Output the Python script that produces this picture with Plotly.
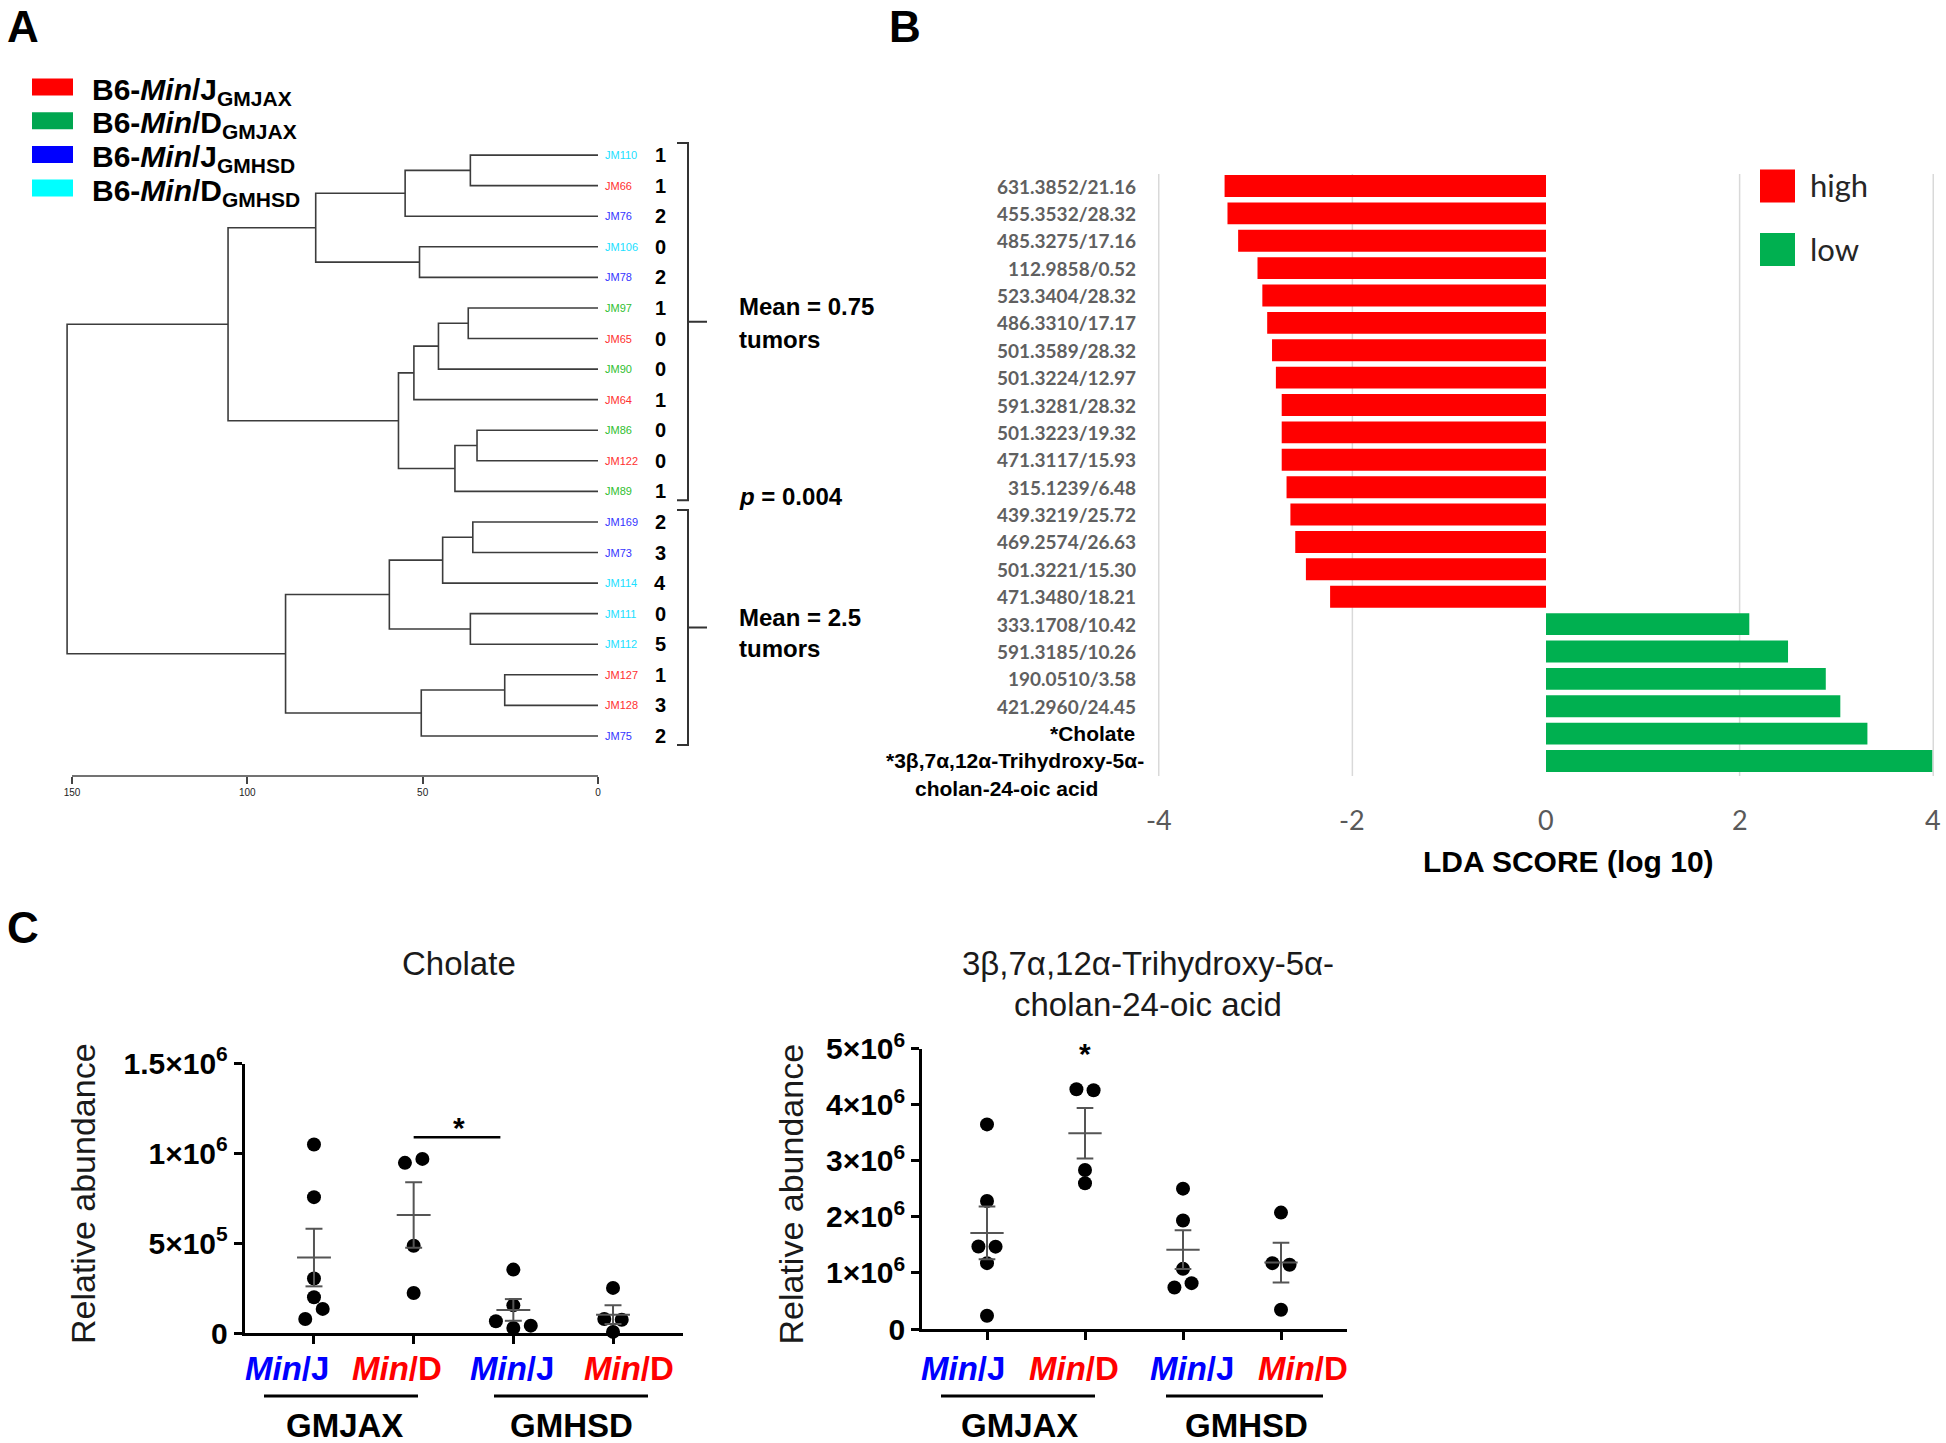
import numpy as np
import plotly.graph_objects as go

W, H = 1946, 1443
def X(px): return px / W
def Y(py): return 1 - py / H

ARIAL = "Liberation Sans, Arial, Helvetica, sans-serif"
CALIBRI = "Lato, Carlito, Calibri, sans-serif"

# ---------------- Panel A data ----------------
leaf_names = ["JM110", "JM66", "JM76", "JM106", "JM78", "JM97", "JM65", "JM90", "JM64", "JM86",
              "JM122", "JM89", "JM169", "JM73", "JM114", "JM111", "JM112", "JM127", "JM128", "JM75"]
leaf_groups = ["D_HSD", "J_JAX", "J_HSD", "D_HSD", "J_HSD", "D_JAX", "J_JAX", "D_JAX", "J_JAX", "D_JAX",
               "J_JAX", "D_JAX", "J_HSD", "J_HSD", "D_HSD", "D_HSD", "D_HSD", "J_JAX", "J_JAX", "J_HSD"]
tumor_counts = [1, 1, 2, 0, 2, 1, 0, 0, 1, 0, 0, 1, 2, 3, 4, 0, 5, 1, 3, 2]
merge_left = [0, 20, 3, 21, 5, 24, 25, 9, 27, 26, 23, 12, 31, 15, 32, 17, 35, 34, 30]
merge_right = [1, 2, 4, 22, 6, 7, 8, 10, 11, 28, 29, 13, 14, 16, 33, 18, 19, 36, 37]
merge_height = [36.4, 55.0, 50.9, 80.5, 37.0, 45.5, 52.5, 34.5, 40.8, 56.9, 105.5,
                35.7, 44.3, 36.4, 59.5, 26.6, 50.4, 89.1, 151.4]
dist_ticks = [150, 100, 50, 0]
legend_groups = ["J_JAX", "D_JAX", "J_HSD", "D_HSD"]
legend_strain = ["J", "D", "J", "D"]
legend_source = ["GMJAX", "GMJAX", "GMHSD", "GMHSD"]
cluster_text = ["<b>Mean = 0.75</b>", "<b>tumors</b>", "<b><i>p</i> = 0.004</b>", "<b>Mean = 2.5</b>", "<b>tumors</b>"]

group_color = {"J_JAX": "#FF0000", "D_JAX": "#00A650", "J_HSD": "#0000FF", "D_HSD": "#00FFFF"}
leaf_color = {"J_JAX": "#FF3030", "D_JAX": "#30C030", "J_HSD": "#3535FF", "D_HSD": "#20E0FF"}

# ---------------- Panel B data ----------------
lda_labels = ["631.3852/21.16", "455.3532/28.32", "485.3275/17.16", "112.9858/0.52", "523.3404/28.32",
              "486.3310/17.17", "501.3589/28.32", "501.3224/12.97", "591.3281/28.32", "501.3223/19.32",
              "471.3117/15.93", "315.1239/6.48", "439.3219/25.72", "469.2574/26.63", "501.3221/15.30",
              "471.3480/18.21", "333.1708/10.42", "591.3185/10.26", "190.0510/3.58", "421.2960/24.45",
              "*Cholate", "*3β,7α,12α-Trihydroxy-5α-|cholan-24-oic acid"]
lda_scores = [-3.32, -3.29, -3.18, -2.98, -2.93, -2.88, -2.83, -2.79, -2.73, -2.73, -2.73,
              -2.68, -2.64, -2.59, -2.48, -2.23, 2.10, 2.50, 2.89, 3.04, 3.32, 3.99]
lda_ticks = [-4, -2, 0, 2, 4]

# ---------------- Panel C data ----------------
c_categories = ["Min/J", "Min/D", "Min/J", "Min/D"]
c_sources = ["GMJAX", "GMHSD"]
cholate = [
    [1.049e6, 0.756e6, 0.303e6, 0.199e6, 0.078e6, 0.134e6],
    [0.947e6, 0.969e6, 0.486e6, 0.223e6],
    [0.353e6, 0.154e6, 0.065e6, 0.028e6, 0.041e6],
    [0.251e6, 0.078e6, 0.074e6, 0.006e6],
]
trihydroxy = [
    [3.648e6, 2.283e6, 1.471e6, 1.468e6, 1.174e6, 0.237e6],
    [4.276e6, 4.258e6, 2.835e6, 2.598e6],
    [2.503e6, 1.934e6, 1.073e6, 0.741e6, 0.818e6],
    [2.076e6, 1.174e6, 1.145e6, 0.344e6],
]
chol_ticks = [0, 5e5, 1e6, 1.5e6]
chol_ticktext = ["0", "5×10<sup>5</sup>", "1×10<sup>6</sup>", "1.5×10<sup>6</sup>"]
tri_ticks = [0, 1e6, 2e6, 3e6, 4e6, 5e6]
tri_ticktext = ["0", "1×10<sup>6</sup>", "2×10<sup>6</sup>", "3×10<sup>6</sup>", "4×10<sup>6</sup>", "5×10<sup>6</sup>"]

fig = go.Figure()
annotations = []
shapes = []


def ann(text, x, y, size, color="black", xanchor="center", yanchor="middle", family=ARIAL,
        xref="paper", yref="paper", textangle=0, **kw):
    annotations.append(dict(text=text, x=x, y=y, xref=xref, yref=yref, showarrow=False,
                            xanchor=xanchor, yanchor=yanchor, textangle=textangle,
                            font=dict(size=size, color=color, family=family), **kw))


def line(x0, y0, x1, y1, color="black", width=2, xref="paper", yref="paper", layer="above"):
    shapes.append(dict(type="line", x0=x0, y0=y0, x1=x1, y1=y1, xref=xref, yref=yref,
                       line=dict(color=color, width=width), layer=layer))


# panel letters
ann("<b>A</b>", X(23), Y(27), 44)
ann("<b>B</b>", X(905), Y(26), 44)
ann("<b>C</b>", X(23), Y(927), 44)

# ================= Panel A =================
for i, g in enumerate(legend_groups):
    yc = 87 + i * 33.7
    shapes.append(dict(type="rect", x0=X(32), x1=X(73), y0=Y(yc - 8.5), y1=Y(yc + 8.5),
                       xref="paper", yref="paper", fillcolor=group_color[g], line=dict(width=0)))
    ann(f"<b>B6-<i>Min</i>/{legend_strain[i]}<sub>{legend_source[i]}</sub></b>", X(90), Y(yc + 4),
        30, xanchor="left")

# dendrogram lines from linkage
n = len(leaf_names)
node_y = {i: float(i) for i in range(n)}
node_h = {i: 0.0 for i in range(n)}
dx, dy = [], []
for k, (a, b, h) in enumerate(zip(merge_left, merge_right, merge_height)):
    ya, yb = node_y[a], node_y[b]
    dx += [node_h[a], h, h, node_h[b], None]
    dy += [ya, ya, yb, yb, None]
    node_y[n + k] = (ya + yb) / 2
    node_h[n + k] = h

fig.add_trace(go.Scatter(x=dx, y=dy, mode="lines", line=dict(color="#3c3c3c", width=1.6),
                         xaxis="x", yaxis="y", hoverinfo="skip", showlegend=False, cliponaxis=False))

# dendrogram axis geometry
D_LEFT, D_RIGHT, D_PX_PER = 40, 598, (598 - 72) / 150
LEAF0, LEAF_STEP = 155.1, 30.57
D_TOP, D_BOTTOM = 140, 776
def leaf_py(i): return LEAF0 + i * LEAF_STEP

for i, (name, g, c) in enumerate(zip(leaf_names, leaf_groups, tumor_counts)):
    ann(name, 0, i, 11, color=leaf_color[g], xanchor="left", xref="x", yref="y", xshift=5)
    ann(f"<b>{c}</b>", 0, i, 20, xanchor="center", xref="x", yref="y", xshift=62)

line(dist_ticks[0], Y(D_BOTTOM), dist_ticks[-1], Y(D_BOTTOM), color="#444", width=1.5, xref="x")

# brackets
def bracket(i0, i1):
    top, bot = leaf_py(i0) - 12, leaf_py(i1) + 9
    mid = (top + bot) / 2
    path = (f"M {X(677)},{Y(top)} L {X(688)},{Y(top)} L {X(688)},{Y(bot)} L {X(677)},{Y(bot)} "
            f"M {X(688)},{Y(mid)} L {X(707)},{Y(mid)}")
    shapes.append(dict(type="path", path=path, xref="paper", yref="paper",
                       line=dict(color="#333", width=2)))
    return mid

m1 = bracket(0, 11)
m2 = bracket(12, 19)
ann(cluster_text[0], X(737), Y(m1 - 15), 24, xanchor="left")
ann(cluster_text[1], X(737), Y(m1 + 18), 24, xanchor="left")
ann(cluster_text[2], X(737), Y(496), 24, xanchor="left")
ann(cluster_text[3], X(737), Y(m2 - 10), 24, xanchor="left")
ann(cluster_text[4], X(737), Y(m2 + 21), 24, xanchor="left")

# ================= Panel B =================
B_X0, B_PX_PER = 1546, (1933.5 - 1159) / 8
B_RANGE = [-4.02, 4.02]
idx = list(range(len(lda_scores)))
hi_i = [i for i in idx if lda_scores[i] < 0]
lo_i = [i for i in idx if lda_scores[i] > 0]
fig.add_trace(go.Bar(orientation="h", x=[lda_scores[i] for i in hi_i], y=hi_i, width=0.8,
                     marker=dict(color="#FF0000", line=dict(width=0)), name="high",
                     xaxis="x2", yaxis="y2", showlegend=False, hoverinfo="skip"))
fig.add_trace(go.Bar(orientation="h", x=[lda_scores[i] for i in lo_i], y=lo_i, width=0.8,
                     marker=dict(color="#00B050", line=dict(width=0)), name="low",
                     xaxis="x2", yaxis="y2", showlegend=False, hoverinfo="skip"))

for t in lda_ticks:
    if t != 0:
        line(t, Y(776), t, Y(174), color="#D9D9D9", width=1.5, xref="x2", layer="below")
    ann(str(t), t, Y(819), 27, color="#595959", family=CALIBRI, xref="x2")
ann("<b>LDA SCORE (log 10)</b>", X(1568), Y(861), 30)

for i, lab in enumerate(lda_labels):
    if lab.startswith("*"):
        parts = lab.split("|")
        ann(f"<b>{parts[0]}</b>", X(1146) if len(parts) > 1 else X(1137), i, 21,
            xanchor="right", yref="y2")
        if len(parts) > 1:
            ann(f"<b>{parts[1]}</b>", X(1006), i, 21, yref="y2", yshift=-28)
    else:
        ann(f"<b>{lab}</b>", X(1138), i, 19, color="#606060", family=CALIBRI,
            xanchor="right", yref="y2")

for k, (nm, col) in enumerate([("high", "#FF0000"), ("low", "#00B050")]):
    yc = 186 + k * 63.5
    shapes.append(dict(type="rect", x0=X(1760), x1=X(1795), y0=Y(yc - 16.5), y1=Y(yc + 16.5),
                       xref="paper", yref="paper", fillcolor=col, line=dict(width=0)))
    ann(nm, X(1808), Y(yc - 1), 31, color="#262626", family=CALIBRI, xanchor="left")

# ================= Panel C =================
cat_pos = [1, 2, 3, 4]
cat_colors = ["#0000FF", "#FF0000", "#0000FF", "#FF0000"]


def swarm_offsets(vals, px_per_val, thresh_px=11.0, step=0.175):
    order = sorted(range(len(vals)), key=lambda i: (vals[i], i))
    rows = []
    for i in order:
        if rows and (vals[i] - vals[rows[-1][0]]) * px_per_val <= thresh_px:
            rows[-1].append(i)
        else:
            rows.append([i])
    off = [0.0] * len(vals)
    for r in rows:
        r = sorted(r)
        m = len(r)
        for j, i in enumerate(r):
            off[i] = (j - (m - 1) / 2) * step
    return off


def dot_panel(groups, xa, ya, px_per_val):
    xs, ys = [], []
    sx, sy = [], []
    for g, vals in zip(cat_pos, groups):
        off = swarm_offsets(vals, px_per_val)
        xs += [g + o for o in off]
        ys += vals
        v = np.array(vals)
        mean = v.mean()
        sem = v.std(ddof=1) / np.sqrt(len(v))
        sx += [g - 0.17, g + 0.17, None, g, g, None, g - 0.085, g + 0.085, None, g - 0.085, g + 0.085, None]
        sy += [mean, mean, None, mean - sem, mean + sem, None, mean + sem, mean + sem, None,
               mean - sem, mean - sem, None]
    fig.add_trace(go.Scatter(x=xs, y=ys, mode="markers", marker=dict(color="black", size=14),
                             xaxis=xa, yaxis=ya, showlegend=False, cliponaxis=False, hoverinfo="skip"))
    fig.add_trace(go.Scatter(x=sx, y=sy, mode="lines", line=dict(color="#555555", width=2),
                             xaxis=xa, yaxis=ya, showlegend=False, cliponaxis=False, hoverinfo="skip"))


L_Y0, L_Y1 = 1333, 1063.5
R_Y0, R_Y1 = 1329, 1048.6
dot_panel(cholate, "x3", "y3", (L_Y0 - L_Y1) / 1.5e6)
dot_panel(trihydroxy, "x4", "y4", (R_Y0 - R_Y1) / 5e6)

ann("Cholate", X(459), Y(963), 33, color="#1a1a1a")
ann("3β,7α,12α-Trihydroxy-5α-", X(1148), Y(963), 33, color="#1a1a1a")
ann("cholan-24-oic acid", X(1148), Y(1004), 33, color="#1a1a1a")
ann("Relative abundance", X(83), Y(1194), 34, textangle=-90, color="#1a1a1a")
ann("Relative abundance", X(790.5), Y(1194), 34, textangle=-90, color="#1a1a1a")

left_lab_px = [287, 396.5, 512, 628.5]
right_lab_px = [963, 1073.5, 1191.5, 1303]
for labs in (left_lab_px, right_lab_px):
    for px, cat, col in zip(labs, c_categories, cat_colors):
        s, e = cat.split("/")
        ann(f"<b><i>{s}</i>/{e}</b>", X(px), Y(1368), 33, color=col)

for (a0, a1), (b0, b1), cx1, cx2 in [((264, 418), (494, 648), 344, 571),
                                      ((941, 1095), (1166, 1323), 1019.5, 1246.5)]:
    line(X(a0), Y(1396), X(a1), Y(1396), width=3)
    line(X(b0), Y(1396), X(b1), Y(1396), width=3)
    ann(f"<b>{c_sources[0]}</b>", X(cx1), Y(1425), 33)
    ann(f"<b>{c_sources[1]}</b>", X(cx2), Y(1425), 33)

# significance marks
line(2, 1.09e6, 2.87, 1.09e6, width=2.5, xref="x3", yref="y3")
ann("<b>*</b>", 2.45, 1.09e6, 30, xref="x3", yref="y3", yshift=10)
ann("<b>*</b>", 2, 4.85e6, 30, xref="x4", yref="y4", yshift=4)

axis_common = dict(showgrid=False, zeroline=False, automargin=False)
c_x = dict(tickvals=cat_pos, showticklabels=False, ticks="outside", ticklen=8, tickwidth=2.5,
           tickcolor="black", showline=True, linecolor="black", linewidth=2.5, **axis_common)
c_y = dict(ticks="outside", ticklen=8, tickwidth=2.5, tickcolor="black", showline=True,
           linecolor="black", linewidth=2.5, tickfont=dict(size=30, family=ARIAL, color="black"),
           **axis_common)

L_SP = 99.7
R_SP = 98.0
fig.update_layout(
    template="none",
    width=W, height=H, margin=dict(l=0, r=0, t=0, b=0, pad=0, autoexpand=False),
    paper_bgcolor="white", plot_bgcolor="rgba(0,0,0,0)", bargap=0.2, showlegend=False,
    xaxis=dict(domain=[X(D_LEFT), X(D_RIGHT)], range=[(D_RIGHT - D_LEFT) / D_PX_PER, 0],
               tickvals=dist_ticks, ticks="outside", ticklen=7, tickwidth=1.5, tickcolor="#444",
               tickfont=dict(size=10, family=ARIAL, color="#222"), showline=False, anchor="y",
               **axis_common),
    yaxis=dict(domain=[Y(D_BOTTOM), Y(D_TOP)],
               range=[(D_BOTTOM - LEAF0) / LEAF_STEP, (D_TOP - LEAF0) / LEAF_STEP],
               visible=False, anchor="x", automargin=False),
    xaxis2=dict(domain=[X(B_X0 + B_RANGE[0] * B_PX_PER), X(B_X0 + B_RANGE[1] * B_PX_PER)],
                range=B_RANGE, visible=False, anchor="y2", automargin=False),
    yaxis2=dict(domain=[Y(776), Y(174)], range=[(776 - 186) / 27.38, (174 - 186) / 27.38],
                visible=False, anchor="x2", automargin=False),
    xaxis3=dict(domain=[X(244.5), X(682.6)],
                range=[1 - (314 - 244.5) / L_SP, 4 + (682.6 - 613) / L_SP], anchor="y3", **c_x),
    yaxis3=dict(domain=[Y(L_Y0), Y(L_Y1)], range=[0, 1.5e6], tickvals=chol_ticks,
                ticktext=[f"<b>{t}</b>" for t in chol_ticktext], anchor="x3", **c_y),
    xaxis4=dict(domain=[X(922), X(1346.5)],
                range=[1 - (987 - 922) / R_SP, 4 + (1346.5 - 1281) / R_SP], anchor="y4", **c_x),
    yaxis4=dict(domain=[Y(R_Y0), Y(R_Y1)], range=[0, 5e6], tickvals=tri_ticks,
                ticktext=[f"<b>{t}</b>" for t in tri_ticktext], anchor="x4", **c_y),
    annotations=annotations, shapes=shapes,
)

fig.write_html("out.html", config={"displayModeBar": False},
               post_script="document.body.style.margin='0';")
